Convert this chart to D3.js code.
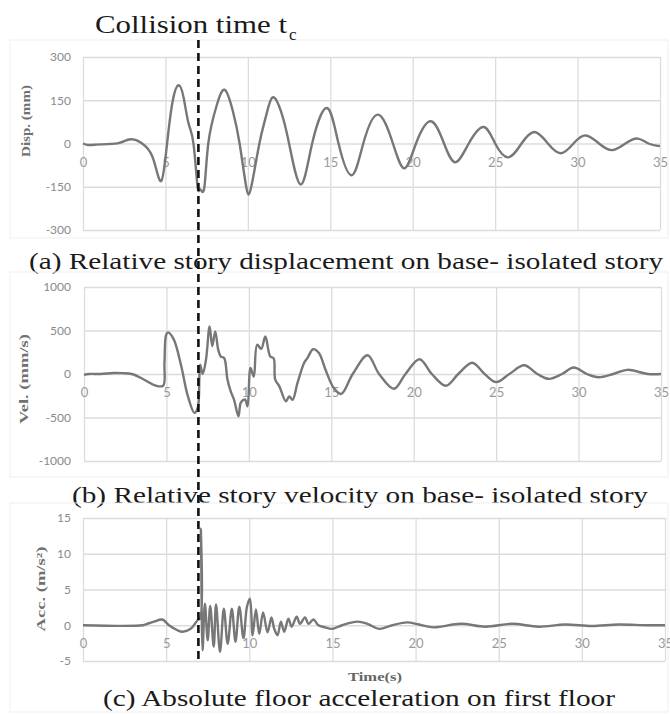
<!DOCTYPE html>
<html>
<head>
<meta charset="utf-8">
<script src="https://cdn.jsdelivr.net/npm/d3@7"></script>
<style>
  body { margin: 0; background: #fff; }
  svg { display: block; }
  .serif { font-family: "Liberation Serif", "Times New Roman", serif; }
  .tick text { font-family: Lato, "DejaVu Sans", sans-serif; }
</style>
</head>
<body>
<div id="chart"></div>
<script>
// shared time axis (s)
var timeTicks = [0, 5, 10, 15, 20, 25, 30, 35];
var collisionTime = 7.0;

// (a) relative story displacement (mm)
var dispTime  = [0, 0.3, 0.8, 1.5, 2.2, 2.8, 3.3, 3.8, 4.3, 4.75, 5.1, 5.45, 5.8, 6.1, 6.4, 6.7, 6.95, 7.1, 7.35, 7.6,
                 8.1, 8.6, 9.1, 9.5, 9.9, 10.2, 10.7, 11.1, 11.5, 12.0, 12.5, 13.2, 13.9, 14.8, 15.5, 16.3, 17.0, 17.9,
                 18.8, 19.5, 20.2, 21.1, 21.9, 22.6, 23.4, 24.3, 25.0, 25.8, 26.6, 27.4, 28.2, 29.0, 29.75, 30.5,
                 31.3, 32.1, 32.9, 33.65, 34.3, 35];
var dispValue = [0, -5, -4, -2, 2, 14, 10, -10, -60, -130, 0, 150, 202, 160, 70, 0, -150, -158, -156, 0,
                 130, 186, 110, 0, -150, -152, 0, 95, 160, 113, 0, -142, 0, 123, 0, -110, 0, 100,
                 0, -86, 0, 77, 0, -65, 0, 57, 0, -48, 0, 40, 0, -34, 0, 28,
                 0, -23, 0, 17, 0, -9];
var dispTicks = [-300, -150, 0, 150, 300];

// (b) relative story velocity (mm/s)
var velTime  = [0, 0.3, 1.0, 1.8, 2.3, 2.9, 3.6, 4.3, 4.8, 4.88, 4.98, 5.1, 5.45, 5.9, 6.3, 6.7, 6.9, 7.0, 7.05, 7.2,
                7.4, 7.62, 7.78, 7.96, 8.14, 8.3, 8.5, 8.7, 8.9, 9.1, 9.37, 9.5, 9.65, 9.78, 9.92, 10.1, 10.3, 10.5,
                10.75, 11.0, 11.3, 11.5, 11.6, 11.85, 12.25, 12.45, 12.65, 12.95, 13.35, 13.55, 13.9, 14.25, 14.65,
                15.15, 15.6, 16.3, 17.2, 17.9, 18.8, 19.5, 20.35, 21.1, 21.95, 22.7, 23.55, 24.3, 25.0, 25.8, 26.7,
                27.5, 28.2, 29.0, 29.7, 30.5, 31.2, 32.1, 32.95, 34.2, 35];
var velValue = [-10, 0, 0, 12, 10, 0, -60, -130, -135, 130, 450, 478, 395, 90, -255, -447, -390, -30, 107, 0,
                165, 546, 320, 490, 280, 200, 185, -60, -200, -295, -486, -333, -300, -295, -372, 70, -30, 336,
                290, 431, 200, 183, -65, -142, -314, -257, -296, -103, 126, 183, 285, 240, 49,
                -161, -229, 0, 215, 0, -170, 0, 170, 0, -135, 0, 130, 0, -93, 0, 100,
                0, -56, 0, 74, 0, -37, 0, 48, 0, 0];
var velTicks = [-1000, -500, 0, 500, 1000];

// (c) absolute floor acceleration (m/s2)
var accTime  = [0, 3.6, 3.86, 4.26, 4.77, 5.17, 5.68, 5.98, 6.48, 6.89, 7.05, 7.09, 7.19, 7.33, 7.5, 7.65, 7.86, 8.0,
                8.24, 8.47, 8.7, 8.95, 9.17, 9.4, 9.65, 9.86, 10.04, 10.2, 10.4, 10.6, 10.83, 11.1, 11.33, 11.5,
                11.7, 11.9, 12.1, 12.35, 12.55, 12.85, 13.05, 13.35, 13.56, 13.86, 14.16, 14.56, 14.97, 15.58,
                16.5, 17.1, 17.8, 18.6, 19.5, 20.2, 21.1, 22.7, 24.2, 25.8, 27.4, 29.0, 30.6, 32.2, 33.9, 35];
var accValue = [0, 0, 0.2, 0.5, 0.8, 0, -0.7, -0.9, -0.5, 0.7, 1.0, 13.5, -3.5, 3.0, -2.1, 2.7, -3.0, 2.9,
                -3.7, 2.3, -2.6, 2.3, -2.3, 2.6, -1.8, 2.6, 3.7, -1.4, 2.2, -1.2, 1.8, -1.0, 1.1, -0.5,
                -1.4, 0.5, -0.9, 0.9, -0.2, 1.2, 0.2, 1.1, 0.2, 0.8, 0, -0.3, -0.5, 0,
                0.5, 0.2, -0.5, 0, 0.4, 0.1, -0.3, 0.2, -0.2, 0.2, -0.2, 0.1, -0.1, 0.1, 0, 0];
var accTicks = [-5, 0, 5, 10, 15];

var W = 670, H = 714;
var svg = d3.select("#chart").append("svg")
  .attr("width", W)
  .attr("height", H);

var panels = [
  { t: dispTime, v: dispValue, ticks: dispTicks, x0: 83, x1: 660, y0: 57, y1: 230, curve: d3.curveNatural,
    frame: [10, 40, 658, 198], title: "Disp. (mm)", titleX: 27, titleY: 121, titleLen: 72,
    caption: "(a) Relative story displacement on base- isolated story", capX: 29, capY: 269, capLen: 634 },
  { t: velTime, v: velValue, ticks: velTicks, x0: 84, x1: 661, y0: 287, y1: 461, curve: d3.curveCatmullRom.alpha(0.5),
    frame: [10, 272, 658, 205], title: "Vel. (mm/s)", titleX: 25, titleY: 379, titleLen: 90,
    caption: "(b) Relative story velocity on base- isolated story", capX: 72, capY: 503, capLen: 576 },
  { t: accTime, v: accValue, ticks: accTicks, x0: 83, x1: 665, y0: 518, y1: 661, curve: d3.curveCatmullRom.alpha(0.5),
    frame: [10, 503, 658, 209], title: "Acc. (m/s\u00b2)", titleX: 42, titleY: 589, titleLen: 85,
    caption: "(c) Absolute floor acceleration on first floor", capX: 103, capY: 706, capLen: 512 }
];

var xScales = [];

panels.forEach(function(p) {

  var x = d3.scaleLinear().domain([0, 35]).range([p.x0, p.x1]);
  var y = d3.scaleLinear().domain([p.ticks[0], p.ticks[p.ticks.length - 1]]).range([p.y1, p.y0]);
  xScales.push(x);

  // faint chart frame
  svg.append("rect")
    .attr("x", p.frame[0]).attr("y", p.frame[1])
    .attr("width", p.frame[2]).attr("height", p.frame[3])
    .attr("fill", "none")
    .attr("stroke", "#efefef")
    .attr("stroke-width", 1);

  var g = svg.append("g");

  // grid
  g.append("g")
    .attr("transform", "translate(0," + p.y1 + ")")
    .call(d3.axisBottom(x).tickValues(timeTicks).tickSize(-(p.y1 - p.y0)).tickFormat(""))
    .call(function(s) { s.select(".domain").remove(); })
    .selectAll("line").attr("stroke", "#dcdcdc").attr("stroke-width", 1.3);

  g.append("g")
    .attr("transform", "translate(" + p.x0 + ",0)")
    .call(d3.axisLeft(y).tickValues(p.ticks).tickSize(-(p.x1 - p.x0)).tickFormat(""))
    .call(function(s) { s.select(".domain").remove(); })
    .selectAll("line").attr("stroke", "#dcdcdc").attr("stroke-width", 1.3);

  // y tick labels
  g.append("g")
    .attr("transform", "translate(71,0)")
    .call(d3.axisLeft(y).tickValues(p.ticks).tickSize(0).tickPadding(0)
      .tickFormat(function(d) { return String(d); }))
    .call(function(s) { s.select(".domain").remove(); })
    .selectAll("text")
    .attr("font-size", 12)
    .attr("fill", "#8a8a8a");

  // x tick labels sit just under the zero line
  g.append("g")
    .attr("transform", "translate(0," + y(0) + ")")
    .call(d3.axisBottom(x).tickValues(timeTicks).tickSize(0).tickPadding(14))
    .call(function(s) { s.select(".domain").remove(); })
    .selectAll("text")
    .attr("font-size", 13)
    .attr("fill", "#9a9a9a");

  // series
  var line = d3.line()
    .x(function(d, i) { return x(p.t[i]); })
    .y(function(d) { return y(d); })
    .curve(p.curve);

  g.append("path")
    .datum(p.v)
    .attr("d", line)
    .attr("fill", "none")
    .attr("stroke", "#777")
    .attr("stroke-width", 2.4)
    .attr("stroke-linejoin", "round");

  // y title
  g.append("text")
    .attr("class", "serif")
    .attr("transform", "translate(" + p.titleX + "," + p.titleY + ") rotate(-90)")
    .attr("text-anchor", "middle")
    .attr("dominant-baseline", "middle")
    .attr("font-weight", "bold")
    .attr("font-size", 13)
    .attr("fill", "#707070")
    .attr("textLength", p.titleLen)
    .attr("lengthAdjust", "spacingAndGlyphs")
    .text(p.title);

  // caption
  svg.append("text")
    .attr("class", "serif")
    .attr("x", p.capX).attr("y", p.capY)
    .attr("font-size", 23)
    .attr("fill", "#1a1a1a")
    .attr("textLength", p.capLen)
    .attr("lengthAdjust", "spacingAndGlyphs")
    .text(p.caption);
});

// x axis title on the bottom panel
svg.append("text")
  .attr("class", "serif")
  .attr("x", 348).attr("y", 681)
  .attr("font-weight", "bold")
  .attr("font-size", 13)
  .attr("fill", "#666")
  .attr("textLength", 54)
  .attr("lengthAdjust", "spacingAndGlyphs")
  .text("Time(s)");

// collision marker
var xc = xScales[0](collisionTime);

svg.append("text")
  .attr("class", "serif")
  .attr("x", 95).attr("y", 33)
  .attr("font-size", 26)
  .attr("fill", "#1a1a1a")
  .attr("textLength", 192)
  .attr("lengthAdjust", "spacingAndGlyphs")
  .text("Collision time t");

svg.append("text")
  .attr("class", "serif")
  .attr("x", 289).attr("y", 40)
  .attr("font-size", 17)
  .attr("fill", "#1a1a1a")
  .text("c");

svg.append("line")
  .attr("x1", xc).attr("x2", xc)
  .attr("y1", 40).attr("y2", 662)
  .attr("stroke", "#111")
  .attr("stroke-width", 2.6)
  .attr("stroke-dasharray", "8,5");
</script>
</body>
</html>
